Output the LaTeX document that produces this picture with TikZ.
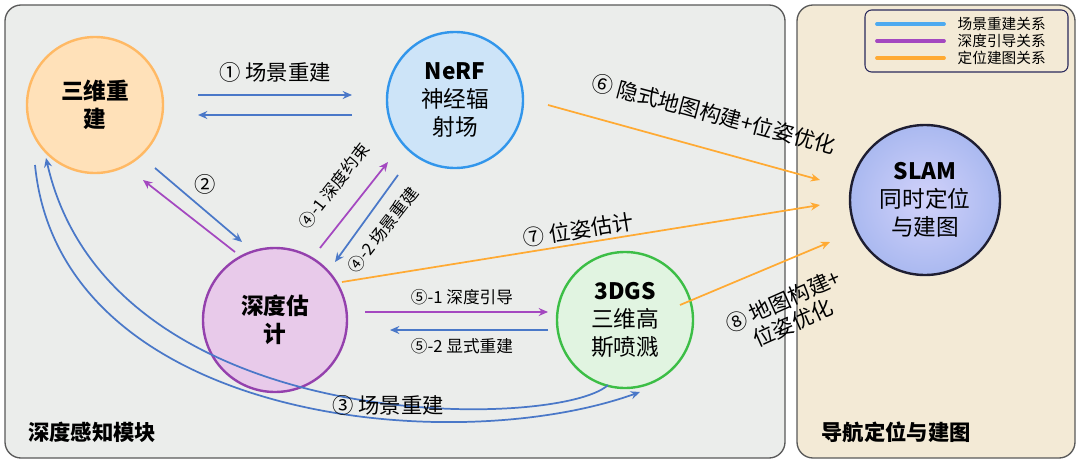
\documentclass[tikz,border=0pt]{standalone}
\usepackage{fontspec}
\setmainfont{Noto Sans CJK SC}
\usetikzlibrary{arrows.meta}
\definecolor{bl}{HTML}{4A78C8}
\definecolor{pu}{HTML}{A448C0}
\definecolor{orr}{HTML}{FFAA33}
\begin{document}
\begin{tikzpicture}[x=0.75pt,y=-0.75pt,
 circ/.style={circle,line width=1.8pt,align=center,font=\fontsize{17}{21}\selectfont},
 ar/.style={-{Stealth[length=7pt,width=6pt]},line width=1.3pt},
 lab/.style={font=\fontsize{16}{18}\selectfont},
 slab/.style={font=\fontsize{12.5}{14}\selectfont}]
\useasboundingbox (0,0) rectangle (1080,467);
\draw[rounded corners=12pt,fill=black!3!green!4!gray!15,draw=gray!70!black,line width=1pt] (5,5) rectangle (785,458);
\draw[rounded corners=12pt,fill={rgb,255:red,243;green,234;blue,214},draw=gray!70!black,line width=1pt] (797,5) rectangle (1075,458);
\node[font=\fontsize{16}{19}\selectfont\bfseries] (m1) at (92,432) {深度感知模块};
\node[font=\fontsize{16}{19}\selectfont\bfseries] (m2) at (896,432) {导航定位与建图};
% legend
\draw[rounded corners=5pt,draw=gray!40!black!80!blue,line width=0.8pt] (865,10) rectangle (1068,72);
\foreach \y/\c/\t in {24/{rgb,255:red,77;green,170;blue,240}/场景重建关系,41/pu/深度引导关系,58/orr/定位建图关系}{
 \draw[line width=2.8pt,line cap=round,color=\c] (877,\y) -- (944,\y);
 \node[anchor=west,font=\fontsize{11}{12}\selectfont] at (953,\y) {\t};}
% circles
\node[circ,minimum size=136pt*0.75,fill={rgb,255:red,255;green,225;blue,185},draw={rgb,255:red,255;green,185;blue,100},font=\fontsize{17}{21}\selectfont\bfseries] (a) at (95,105) {三维重\\建};
\node[circ,minimum size=136pt*0.75,fill={rgb,255:red,205;green,228;blue,248},draw={rgb,255:red,50;green,150;blue,235}] (n) at (455,100) {\textbf{NeRF}\\神经辐\\射场};
\node[circ,minimum size=144pt*0.75,fill={rgb,255:red,232;green,202;blue,234},draw=pu!90!black,font=\fontsize{17}{21}\selectfont\bfseries] (d) at (275,320) {深度估\\计};
\node[circ,minimum size=136pt*0.75,fill={rgb,255:red,225;green,244;blue,225},draw={rgb,255:red,60;green,190;blue,70}] (g) at (625,320) {\textbf{3DGS}\\三维高\\斯喷溅};
\node[circ,minimum size=150pt*0.75,inner color={rgb,255:red,210;green,210;blue,250},outer color={rgb,255:red,170;green,185;blue,240},draw={rgb,255:red,30;green,30;blue,50}] (s) at (925,200) {\textbf{SLAM}\\同时定位\\与建图};
% arrows 1
\coordinate (p1) at (198,95); \coordinate (p2) at (352,95);
\coordinate (p3) at (352,115); \coordinate (p4) at (198,115);
\draw[ar,bl] (p1) -- (p2); \draw[ar,bl] (p3) -- (p4);
\node[lab] (l1) at (275,72) {① 场景重建};
% 2
\coordinate (q1) at (235,252); \coordinate (q2) at (143,180);
\coordinate (q3) at (155,168); \coordinate (q4) at (242,242);
\draw[ar,pu] (q1) -- (q2); \draw[ar,bl] (q3) -- (q4);
\node[lab] (l2) at (205,184) {②};
% 4
\coordinate (r1) at (320,248); \coordinate (r2) at (388,162);
\coordinate (r3) at (398,175); \coordinate (r4) at (335,262);
\draw[ar,pu] (r1) -- (r2); \draw[ar,bl] (r3) -- (r4);
\node[slab,rotate=52] (l41) at (334,186) {④-1 深度约束};
\node[slab,rotate=52] (l42) at (383,230) {④-2 场景重建};
% 5
\coordinate (t1) at (365,312); \coordinate (t2) at (548,312);
\coordinate (t3) at (548,330); \coordinate (t4) at (390,330);
\draw[ar,pu] (t1) -- (t2); \draw[ar,bl] (t3) -- (t4);
\node[slab] (l51) at (462,297) {⑤-1 深度引导};
\node[slab] (l52) at (462,346) {⑤-2 显式重建};
% 3
\coordinate (u1) at (35,165); \coordinate (u2) at (640,392);
\coordinate (u3) at (608,385); \coordinate (u4) at (46,158);
\draw[ar,bl] (u1) .. controls (60,420) and (450,460) .. (u2);
\draw[ar,bl] (u3) .. controls (560,430) and (110,440) .. (u4);
\node[lab] (l3) at (388,405) {③ 场景重建};
% 6 7 8
\coordinate (v1) at (548,105); \coordinate (v2) at (820,180);
\draw[ar,orr] (v1) -- (v2);
\node[lab,rotate=-15] (l6) at (714,114) {⑥ 隐式地图构建+位姿优化};
\coordinate (w1) at (342,282); \coordinate (w2) at (820,205);
\draw[ar,orr] (w1) -- (w2);
\node[lab,rotate=9] (l7) at (578,230) {⑦ 位姿估计};
\coordinate (z1) at (680,305); \coordinate (z2) at (830,242);
\draw[ar,orr] (z1) -- (z2);
\node[lab,rotate=24,align=center] (l8) at (788,312) {⑧ 地图构建+\\位姿优化};
\end{tikzpicture}
\end{document}
